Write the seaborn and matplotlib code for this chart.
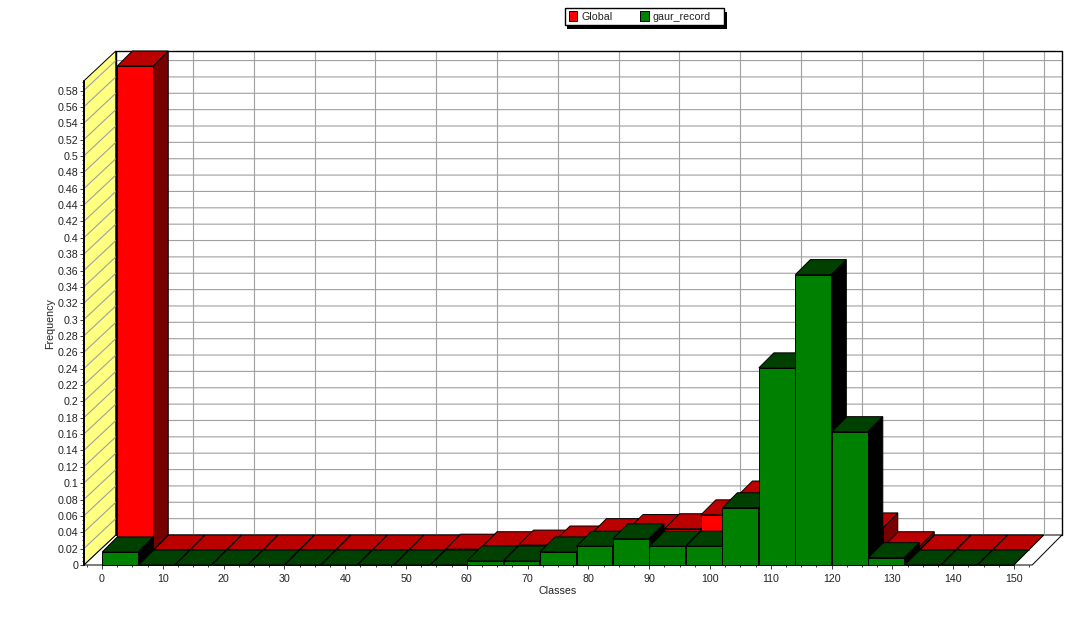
import numpy as np
import pandas as pd
import matplotlib
matplotlib.use("Agg")
import matplotlib.pyplot as plt
import seaborn as sns
from matplotlib.patches import Polygon, Patch, Rectangle
from matplotlib.transforms import Affine2D
from matplotlib.ticker import MultipleLocator

bin_starts = list(range(0, 150, 6))
global_freq = [0.5917, 0, 0, 0, 0, 0, 0, 0, 0, 0.001, 0.004, 0.006, 0.011, 0.02,
               0.025, 0.026, 0.043, 0.066, 0.07, 0.05, 0.027, 0.004, 0, 0, 0]
gaur_freq = [0.016, 0, 0, 0, 0, 0, 0, 0, 0, 0, 0.005, 0.005, 0.016, 0.023,
             0.032, 0.023, 0.023, 0.07, 0.241, 0.355, 0.163, 0.009, 0, 0, 0]
x_ticks = list(range(0, 151, 10))
y_ticks = [round(0.02 * i, 2) for i in range(30)]
series_names = ["Global", "gaur_record"]

RED = ("#FF0000", "#BB0000", "#770000")
GREEN = ("#008000", "#004000", "#000000")
WALL = "#FFFF80"
GRID = "#A0A0A0"
INK = "#222222"
PX = 0.72
FS = 7.7

sns.set_style("white")
plt.rcParams["font.family"] = ["Liberation Sans", "DejaVu Sans"]

W, H = 1082, 621
fig = plt.figure(figsize=(W / 100, H / 100), dpi=100)
ax = fig.add_axes([83.8 / W, (H - 565) / H, (1032.2 - 83.8) / W, 484 / H])
xmin, xmax, ymax = -3, 153, max(global_freq)
sx = (1032.2 - 83.8) / (xmax - xmin)
sy = 484 / ymax
dx, dy = 15.0 / sx, 15.0 / sy


def draw_series(values, colors, shift, base_z):
    tr = Affine2D().translate(shift * dx, shift * dy) + ax.transData
    df = pd.DataFrame({"Classes": [b + 3 for b in bin_starts], "Frequency": values})
    before = len(ax.patches)
    sns.barplot(data=df, x="Classes", y="Frequency", native_scale=True, width=0.985,
                color=colors[0], saturation=1, edgecolor="black", linewidth=PX,
                errorbar=None, ax=ax)
    for i, p in enumerate(list(ax.patches)[before:]):
        p.set_transform(tr)
        p.set_clip_on(False)
        p.set_facecolor(colors[0])
        p.set_zorder(base_z + 3 * i + 2)
        l, r, h = p.get_x(), p.get_x() + p.get_width(), p.get_height()
        side = [(r, 0), (r + dx, dy), (r + dx, h + dy), (r, h)]
        top = [(l, h), (r, h), (r + dx, h + dy), (l + dx, h + dy)]
        ax.add_patch(Polygon(side, closed=True, fc=colors[2], ec="black", lw=PX,
                             transform=tr, clip_on=False, zorder=base_z + 3 * i))
        ax.add_patch(Polygon(top, closed=True, fc=colors[1], ec="black", lw=PX,
                             transform=tr, clip_on=False, zorder=base_z + 3 * i + 1))


# walls and floor
lbx = 32.0 / sx            # depth at the left end of the box
rbx = 29.8 / sx            # depth at the right end of the box
by = 2 * dy
xl, xr = xmin + lbx, xmax + rbx
ax.add_patch(Polygon([(xl, by), (xr, by), (xr, ymax + by), (xl, ymax + by)],
                     closed=True, fc="white", ec="black", lw=PX, clip_on=False, zorder=1))
ax.add_patch(Polygon([(xmin, 0), (xmax, 0), (xr, by), (xl, by)],
                     closed=True, fc="white", ec="black", lw=PX, clip_on=False, zorder=1))
ax.add_patch(Polygon([(xmin, 0), (xmin, ymax), (xl, ymax + by), (xl, by)],
                     closed=True, fc=WALL, ec="black", lw=PX, clip_on=False, zorder=1))
back = Affine2D().translate(30.2 / sx, by) + ax.transData
ax.vlines(x_ticks, 0, ymax, colors=GRID, lw=0.8, transform=back, clip_on=False, zorder=2)
for t in y_ticks[1:]:
    ax.plot([xmin, xl, xr], [t, t + by, t + by], color=GRID, lw=0.8,
            clip_on=False, zorder=2, solid_joinstyle="miter")
ax.plot([xl, xl, xr, xr], [by, ymax + by, ymax + by, by],
        color="black", lw=1.0, clip_on=False, zorder=3)
ax.plot([xmin, xmin], [0, ymax], color="black", lw=1.4, clip_on=False, zorder=3)

draw_series(global_freq, RED, 1, 10)
draw_series(gaur_freq, GREEN, 0, 200)

ax.set_xlim(xmin, xmax)
ax.set_ylim(0, ymax)
sns.despine(ax=ax, left=True, bottom=True)
ax.patch.set_alpha(0)
ax.set_xticks(x_ticks)
ax.set_xticklabels([str(t) for t in x_ticks])
ax.set_yticks(y_ticks)
ax.set_yticklabels([f"{t:g}" for t in y_ticks])
ax.xaxis.set_minor_locator(MultipleLocator(2.5))
ax.yaxis.set_minor_locator(MultipleLocator(0.005))
ax.tick_params(axis="both", which="major", length=2.9, width=PX, color="#404040", labelsize=FS,
               labelcolor=INK, bottom=True, left=True)
ax.tick_params(axis="x", which="major", pad=3.6)
ax.tick_params(axis="y", which="major", pad=1.0)
ax.tick_params(axis="both", which="minor", length=1.6, width=PX, color="#404040", bottom=True, left=True)
ax.set_xlabel("Classes", fontsize=FS, color=INK, labelpad=0)
ax.set_ylabel("Frequency", fontsize=FS, color=INK, labelpad=0)
ax.xaxis.set_label_coords((558 - 83.8) / (1032.2 - 83.8), -(591 - 565) / 484, transform=ax.transAxes)
ax.xaxis.label.set_va("center")
ax.yaxis.set_label_coords((50 - 83.8) / (1032.2 - 83.8), (565 - 324) / 484, transform=ax.transAxes)
ax.yaxis.label.set_va("center")

# legend box with hard shadow, wider on the right than the entries need
fig.add_artist(Rectangle((567 / W, 1 - 28.7 / H), 160 / W, 16.7 / H, transform=fig.transFigure,
                         fc="black", ec="none", zorder=5))
fig.add_artist(Rectangle((564.5 / W, 1 - 24.7 / H), 159.5 / W, 16.7 / H, transform=fig.transFigure,
                         fc="white", ec="black", lw=1.0, zorder=6))
handles = [Patch(fc=RED[0], ec="black", lw=PX), Patch(fc=GREEN[0], ec="black", lw=PX)]
leg = fig.legend(handles, series_names, loc="center left", bbox_to_anchor=(569 / W, 1 - 16.5 / H),
                 ncol=2, fontsize=FS, frameon=False, handlelength=0.78, handleheight=1.0,
                 handletextpad=0.36, columnspacing=2.62, borderpad=0, borderaxespad=0)
leg.set_zorder(7)
for t in leg.get_texts():
    t.set_color(INK)

fig.savefig("out.png", dpi=100, facecolor="white")
